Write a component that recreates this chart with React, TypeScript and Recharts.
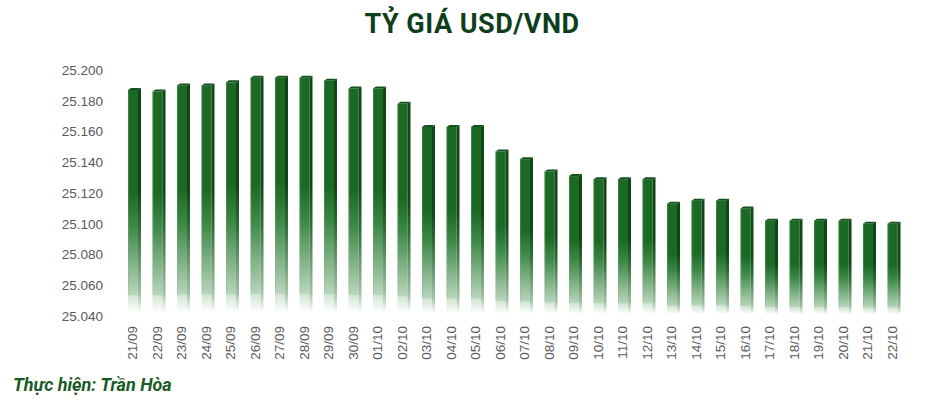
import React from 'react';
import { BarChart, Bar, XAxis, YAxis } from 'recharts';

const dates = [
  '21/09', '22/09', '23/09', '24/09', '25/09', '26/09', '27/09', '28/09', '29/09', '30/09',
  '01/10', '02/10', '03/10', '04/10', '05/10', '06/10', '07/10', '08/10', '09/10', '10/10',
  '11/10', '12/10', '13/10', '14/10', '15/10', '16/10', '17/10', '18/10', '19/10', '20/10',
  '21/10', '22/10',
];

const rates = [
  25187, 25186, 25190, 25190, 25192, 25195, 25195, 25195, 25193, 25188,
  25188, 25178, 25163, 25163, 25163, 25147, 25142, 25134, 25131, 25129,
  25129, 25129, 25113, 25115, 25115, 25110, 25102, 25102, 25102, 25102,
  25100, 25100,
];

const yTicks = [25040, 25060, 25080, 25100, 25120, 25140, 25160, 25180, 25200];

const data = dates.map((date, i) => ({ date, rate: rates[i] }));

const fmt = (v: number) => `${Math.floor(v / 1000)}.${String(v % 1000).padStart(3, '0')}`;

const Bar3D = (props: any) => {
  const { x, y, width, height } = props;
  if (height == null || height <= 0) return null;
  const d = 3;
  const lift = 2;
  const fw = width - d;
  return (
    <g>
      <rect x={x} y={y} width={fw} height={height} fill="url(#frontGrad)" />
      <polygon
        points={`${x + fw},${y} ${x + width},${y - lift} ${x + width},${y + height - lift} ${x + fw},${y + height}`}
        fill="url(#sideGrad)"
      />
      <polygon
        points={`${x},${y} ${x + d},${y - lift} ${x + width},${y - lift} ${x + fw},${y}`}
        fill="#14521d"
      />
      <line x1={x + 0.5} y1={y} x2={x + 0.5} y2={y + height * 0.9} stroke="#7fb487" strokeOpacity={0.3} strokeWidth={1} />
    </g>
  );
};

const XTick = (props: any) => {
  const { x, y, payload } = props;
  const tx = x - 1.5;
  return (
    <text
      x={tx}
      y={y}
      transform={`rotate(-90, ${tx}, ${y})`}
      textAnchor="end"
      dominantBaseline="central"
      fill="#595959"
      fontSize={13.5}
      fontFamily="'Liberation Sans', Arial, sans-serif"
    >
      {payload.value}
    </text>
  );
};

export default function App() {
  return (
    <div style={{ position: 'absolute', left: 0, top: 0, width: 928, height: 402, background: '#fff' }}>
      <div
        style={{
          position: 'absolute',
          left: 0,
          width: 944,
          top: 8,
          textAlign: 'center',
          fontFamily: 'Roboto, sans-serif',
          fontWeight: 700,
          fontSize: 27,
          color: '#0e3e1b',
          letterSpacing: 0.5,
        }}
      >
        TỶ GIÁ USD/VND
      </div>
      <BarChart
        width={928}
        height={402}
        data={data}
        margin={{ top: 70, right: 22, left: 0, bottom: 26 }}
        barSize={13}
      >
        <defs>
          <linearGradient id="frontGrad" x1="0" y1="0" x2="0" y2="1">
            <stop offset="0" stopColor="#1b6a24" />
            <stop offset="0.45" stopColor="#1b6a24" />
            <stop offset="0.6" stopColor="#3d8847" />
            <stop offset="0.905" stopColor="#b8d5bb" />
            <stop offset="0.91" stopColor="#d3e5d4" />
            <stop offset="0.985" stopColor="#ffffff" />
            <stop offset="1" stopColor="#ffffff" />
          </linearGradient>
          <linearGradient id="sideGrad" x1="0" y1="0" x2="0" y2="1">
            <stop offset="0" stopColor="#0f4716" />
            <stop offset="0.45" stopColor="#0f4716" />
            <stop offset="0.62" stopColor="#2f6f37" />
            <stop offset="0.9" stopColor="#9fc1a3" />
            <stop offset="0.985" stopColor="#ffffff" />
            <stop offset="1" stopColor="#ffffff" />
          </linearGradient>
        </defs>
        <XAxis
          dataKey="date"
          interval={0}
          axisLine={false}
          tickLine={false}
          tickSize={0}
          tickMargin={10}
          height={60}
          tick={<XTick />}
        />
        <YAxis
          domain={[25040, 25200]}
          ticks={yTicks}
          allowDataOverflow
          axisLine={false}
          tickLine={false}
          tickSize={0}
          tickMargin={19}
          width={122}
          tickFormatter={fmt}
          tick={{ fill: '#595959', fontSize: 13.5, fontFamily: "'Liberation Sans', Arial, sans-serif" }}
        />
        <Bar dataKey="rate" shape={<Bar3D />} isAnimationActive={false} />
      </BarChart>
      <div
        style={{
          position: 'absolute',
          left: 13,
          top: 374,
          fontFamily: 'Roboto, sans-serif',
          fontWeight: 700,
          fontStyle: 'italic',
          fontSize: 18,
          color: '#1a5a24',
        }}
      >
        Thực hiện: Trần Hòa
      </div>
    </div>
  );
}
